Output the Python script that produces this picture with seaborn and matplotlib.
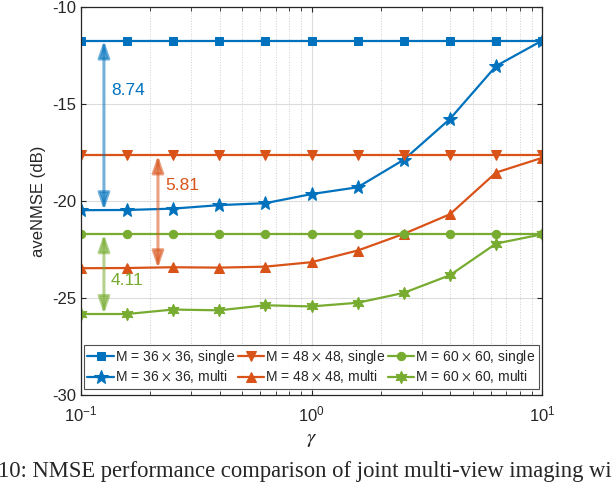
import numpy as np
import pandas as pd
import seaborn as sns
import matplotlib.pyplot as plt
from matplotlib.ticker import LogLocator, NullFormatter

sns.set_style('ticks')
plt.rcParams['font.family'] = ['Liberation Sans', 'DejaVu Sans']
plt.rcParams['axes.unicode_minus'] = False
plt.rcParams['mathtext.fontset'] = 'stix'

gamma = [0.1, 0.1585, 0.2512, 0.3981, 0.631, 1.0, 1.585, 2.512, 3.981, 6.31, 10.0]

single_36 = [-11.74] * 11
multi_36 = [-20.48, -20.47, -20.40, -20.22, -20.12, -19.65, -19.30, -17.88, -15.78, -13.05, -11.74]
single_48 = [-17.66] * 11
multi_48 = [-23.47, -23.46, -23.42, -23.44, -23.39, -23.16, -22.56, -21.70, -20.69, -18.54, -17.78]
single_60 = [-21.72] * 11
multi_60 = [-25.83, -25.83, -25.60, -25.64, -25.38, -25.44, -25.25, -24.74, -23.83, -22.20, -21.72]

gaps = [8.74, 5.81, 4.11]

blue, red, green = '#0072BD', '#D95319', '#77AC30'

series = [
    ('M = 36 $\\times$ 36, single', single_36, blue, 's', 6),
    ('M = 36 $\\times$ 36, multi', multi_36, blue, '*', 10),
    ('M = 48 $\\times$ 48, single', single_48, red, 'v', 7),
    ('M = 48 $\\times$ 48, multi', multi_48, red, '^', 7),
    ('M = 60 $\\times$ 60, single', single_60, green, 'o', 6),
    ('M = 60 $\\times$ 60, multi', multi_60, green, (6, 1, 0), 9),
]

fig = plt.figure(figsize=(6.12, 4.84), dpi=100)
ax = fig.add_axes([0.132, 0.184, 0.754, 0.802])

for name, vals, col, mk, ms in series:
    df = pd.DataFrame({'gamma': gamma, 'nmse': vals})
    sns.lineplot(data=df, x='gamma', y='nmse', ax=ax, color=col, marker=mk,
                 markersize=ms, markeredgecolor=col, linewidth=1.6, label=name)

ax.set_xscale('log')
ax.set_xlim(0.1, 10)
ax.set_ylim(-30, -10)
ax.set_yticks([-30, -25, -20, -15, -10])
ax.xaxis.set_minor_locator(LogLocator(base=10, subs=np.arange(2, 10)))
ax.xaxis.set_minor_formatter(NullFormatter())
ax.grid(True, which='major', color='#dcdcdc', linewidth=0.8)
ax.grid(True, which='minor', color='#cfcfcf', linestyle=':', linewidth=0.7)
ax.tick_params(which='both', direction='in', top=True, right=True, labelsize=12)
ax.tick_params(axis='x', which='major', pad=7)
ax.tick_params(which='minor', length=3)
for s in ax.spines.values():
    s.set_color('#262626')
    s.set_linewidth(0.9)
ax.set_xlabel('$\\gamma$', fontsize=15, labelpad=4)
ax.set_ylabel('aveNMSE (dB)', fontsize=12)

# gap arrows
arrows = [
    (0.126, single_36[0], multi_36[0], blue, gaps[0], 0.135, -14.3),
    (0.216, single_48[0], multi_48[0], red, gaps[1], 0.232, -19.2),
    (0.126, single_60[0], multi_60[0], green, gaps[2], 0.135, -24.1),
]
for xa, y1, y2, col, g, tx, ty in arrows:
    ax.annotate('', xy=(xa, y2), xytext=(xa, y1),
                arrowprops=dict(arrowstyle='<|-|>,head_length=1.0,head_width=0.35',
                                color=col, alpha=0.55, lw=2.2, shrinkA=0, shrinkB=0))
    ax.text(tx, ty, f'{g:.2f}', color=col, fontsize=12.5, va='center')

leg = ax.legend(ncol=3, loc='lower center', bbox_to_anchor=(0.5, 0.005),
                fontsize=10, frameon=True, fancybox=False, edgecolor='#262626',
                handlelength=1.9, handletextpad=0.1, columnspacing=0.15,
                borderpad=0.25, labelspacing=0.15, borderaxespad=0.3)
leg.get_frame().set_linewidth(0.8)

fig.text(-0.003, 0.047, '10: NMSE performance comparison of joint multi-view imaging with',
         family='Liberation Serif', fontsize=16.3, va='top', ha='left')

fig.savefig('out.png', dpi=100)
